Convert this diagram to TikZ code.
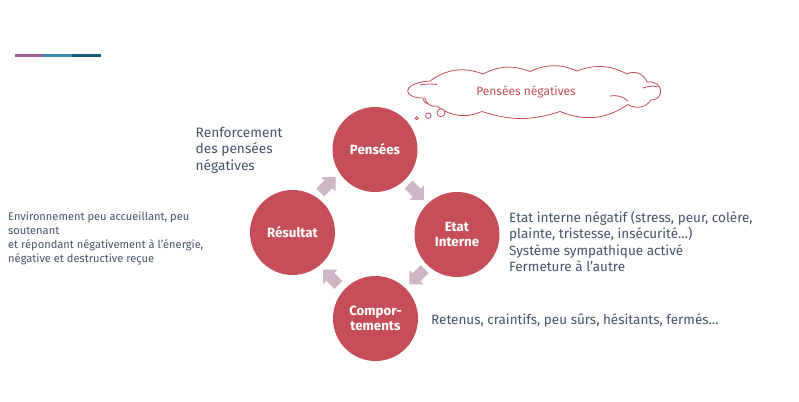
\documentclass[tikz,border=0pt]{standalone}
\usepackage{fontspec}
\setmainfont{Fira Sans}
\usetikzlibrary{calc}
\definecolor{circred}{HTML}{C64E59}
\definecolor{arrowfill}{HTML}{CFB6C6}
\definecolor{txtgray}{HTML}{44546A}
\definecolor{barA}{HTML}{A35C93}
\definecolor{barB}{HTML}{3D8BB2}
\definecolor{barC}{HTML}{1B5B82}
\tikzset{
  stage/.style={circle, fill=circred, minimum size=85pt, inner sep=0pt, text=white,
    font=\fontsize{13.3}{15}\selectfont\bfseries, align=center},
  note/.style={text=txtgray, align=left, inner sep=0pt, anchor=west},
  blockarrow/.pic={\fill[arrowfill] (-10.5,-5.5) -- (1,-5.5) -- (1,-10) -- (11,0) -- (1,10) -- (1,5.5) -- (-10.5,5.5) -- cycle;},
  bubble/.style={draw=circred, line width=0.8pt, fill=white},
  cloudline/.style={draw=circred, line width=0.8pt, fill=white, line join=round},
  cloudinner/.style={draw=circred, line width=0.8pt, line cap=round}
}
\begin{document}
\begin{tikzpicture}[x=1pt,y=-1pt]
\path[use as bounding box, fill=white] (0,0) rectangle (799,401);
% top bar
\fill[barA] (15,54) rectangle (43,57);
\fill[barB] (43,54) rectangle (72,57);
\fill[barC] (72,54) rectangle (101,57);
% stages
\node[stage] (p) at (375,149.5) {Pensées};
\node[stage] (e) at (457,234.5) {Etat\\Interne};
\node[stage] (c) at (375.5,318.5) {Compor-\\tements};
\node[stage] (r) at (292.5,232.5) {Résultat};
% arrows
\pic[rotate=-45] at ($(p)!0.5!(e)$) {blockarrow};
\pic[rotate=-135] at ($(e)!0.5!(c)+(1,0)$) {blockarrow};
\pic[rotate=135] at ($(c)!0.5!(r)+(-3,2)$) {blockarrow};
\pic[rotate=45] at ($(r)!0.5!(p)+(-6,-6)$) {blockarrow};
% thought cloud
\draw[cloudline] (430,81) to[bend left=28] (483,74)
  to[bend left=24] (530,71.5)
  to[bend left=24] (577,71)
  to[bend left=24] (627,74)
  to[bend left=50] (647,82)
  .. controls (664,80) and (665,100) .. (651,100)
  to[bend left=45] (628,104.5)
  to[bend left=28] (560,111.5)
  to[bend left=18] (482,111.5)
  to[bend left=30] (437,106)
  to[bend left=50] (425,98)
  .. controls (402,99) and (400,83) .. (430,81) -- cycle;
\draw[cloudinner] (420,85) to[bend left=8] (437,84.5);
\draw[cloudinner] (643,88) to[bend left=12] (657,86.5);
\draw[cloudinner] (610,96) to[bend left=25] (628,101);
\draw[cloudinner] (423,99) to[bend right=30] (428,104);
\node[text=circred, font=\fontsize{12}{14}\selectfont, inner sep=0pt] (clt) at (526,91.5) {Pensées négatives};
\draw[bubble] (416.7,118.3) circle (1.5);
\draw[bubble] (428.3,115.7) circle (2.7);
\draw[bubble] (441,112.7) circle (4);
% notes
\node[note, font=\fontsize{13.7}{16.5}\selectfont] (n1) at (195.5,150) {Renforcement\\des pensées\\négatives};
\node[note, font=\fontsize{11.1}{13.7}\selectfont] (n2) at (8,238.5) {Environnement peu accueillant, peu\\soutenant\\et répondant négativement à l’énergie,\\négative et destructive reçue};
\node[note, font=\fontsize{13.5}{16.5}\selectfont] (n3) at (509,241.5) {Etat interne négatif (stress, peur, colère,\\plainte, tristesse, insécurité…)\\Système sympathique activé\\Fermeture à l’autre};
\node[note, font=\fontsize{13.5}{16.5}\selectfont] (n4) at (431,321) {Retenus, craintifs, peu sûrs, hésitants, fermés…};
\end{tikzpicture}
\end{document}
